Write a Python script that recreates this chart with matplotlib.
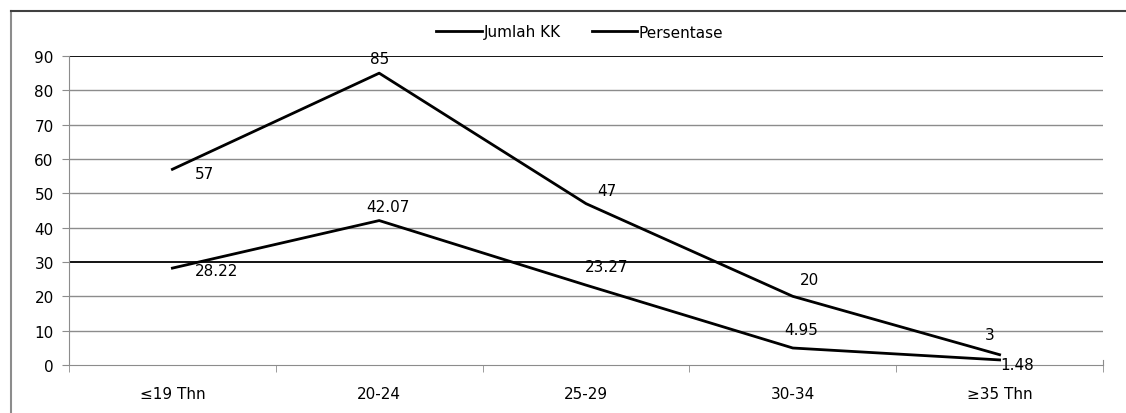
import numpy as np
import matplotlib
matplotlib.use('Agg')
import matplotlib.pyplot as plt
from matplotlib.lines import Line2D

# Data
categories = ["≤19 Thn", "20-24", "25-29", "30-34", "≥35 Thn"]
jumlah_kk = [57, 85, 47, 20, 3]
persentase = [28.22, 42.07, 23.27, 4.95, 1.48]
kk_labels = ["57", "85", "47", "20", "3"]
pct_labels = ["28.22", "42.07", "23.27", "4.95", "1.48"]
y_ticks = [0, 10, 20, 30, 40, 50, 60, 70, 80, 90]

plt.rcParams["font.family"] = ["DejaVu Sans"]
plt.rcParams["font.size"] = 11

fig = plt.figure(figsize=(11.26, 4.14), dpi=100)
ax = fig.add_axes([69 / 1126, 1 - 366 / 414, (1103 - 69) / 1126, (366 - 57) / 414])

x = np.arange(len(categories))

# gridlines (30 and 90 drawn darker as in the source)
for v in y_ticks[1:]:
    dark = v in (30, 90)
    ax.axhline(v, color="#000000" if dark else "#8c8c8c", lw=1.3 if dark else 1.0, zorder=1)

ax.plot(x, jumlah_kk, color="black", lw=2.0, label="Jumlah KK", zorder=3)
ax.plot(x, persentase, color="black", lw=2.0, label="Persentase", zorder=3)

# data labels (offsets in points)
kk_off = [(16, -3, "left"), (0, 5, "center"), (8, 4, "left"), (12, 7, "center"), (-7, 9, "center")]
pct_off = [(16, -2, "left"), (6, 5, "center"), (15, 8, "center"), (6, 8, "center"), (13, -3, "center")]
for xi, yi, lab, (dx, dy, ha) in zip(x, jumlah_kk, kk_labels, kk_off):
    ax.annotate(lab, (xi, yi), xytext=(dx, dy), textcoords="offset points",
                ha=ha, va="bottom" if dy > 3 else "center", zorder=4)
for xi, yi, lab, (dx, dy, ha) in zip(x, persentase, pct_labels, pct_off):
    ax.annotate(lab, (xi, yi), xytext=(dx, dy), textcoords="offset points",
                ha=ha, va="bottom" if dy > 3 else "center", zorder=4)

ax.set_xlim(-0.5, len(categories) - 0.5)
ax.set_ylim(0, 90)
ax.set_yticks(y_ticks)
ax.set_xticks(x)
ax.set_xticklabels(categories)
ax.set_xticks(np.arange(-0.5, len(categories), 1.0), minor=True)
ax.tick_params(axis="x", which="major", length=0, pad=15)
ax.tick_params(axis="x", which="minor", length=5, color="#8c8c8c", direction="out")
ax.tick_params(axis="y", length=5, color="#8c8c8c", pad=6)

for s in ["top", "right"]:
    ax.spines[s].set_visible(False)
ax.spines["left"].set_color("#8c8c8c")
ax.spines["bottom"].set_color("#8c8c8c")
ax.spines["right"].set_visible(True)
ax.spines["right"].set_color("#8c8c8c")
ax.spines["right"].set_bounds(0, 1.5)

leg = fig.legend(loc="center", bbox_to_anchor=(580 / 1126, 1 - 33 / 414), ncol=2,
                 frameon=False, handlelength=3.0, handletextpad=0.1, columnspacing=2.0)

# outer chart border (top and left only, rest cropped)
fig.add_artist(Line2D([11 / 1126, 11 / 1126], [0, 1 - 12 / 414], transform=fig.transFigure,
                      color="#8c8c8c", lw=1.5))
fig.add_artist(Line2D([11 / 1126, 1], [1 - 12 / 414, 1 - 12 / 414], transform=fig.transFigure,
                      color="#404040", lw=1.5))

fig.savefig("out.png", dpi=100)
